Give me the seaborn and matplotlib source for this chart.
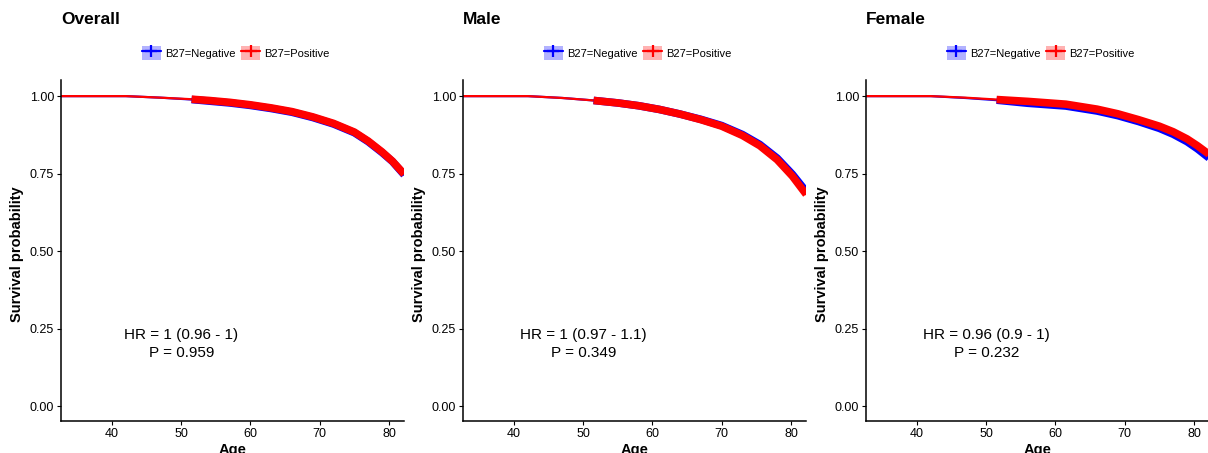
import numpy as np
import pandas as pd
import seaborn as sns
import matplotlib.pyplot as plt
from matplotlib.patches import Patch
from matplotlib.lines import Line2D
from matplotlib.legend_handler import HandlerTuple

sns.set_theme(style="ticks")
plt.rcParams['font.family'] = ['Liberation Sans', 'DejaVu Sans']
plt.rcParams['text.color'] = 'black'
plt.rcParams['axes.labelcolor'] = 'black'

titles = ["Overall", "Male", "Female"]
hr_labels = ["HR = 1 (0.96 - 1)", "HR = 1 (0.97 - 1.1)", "HR = 0.96 (0.9 - 1)"]
p_labels = ["P = 0.959", "P = 0.349", "P = 0.232"]
groups = ["B27=Negative", "B27=Positive"]
colors = {"B27=Negative": "#0000FF", "B27=Positive": "#FF0000"}

# survival (censor marks start ~51.5)
censor_start = 51.5
overall_age = [32.7, 42, 47, 51.5, 54, 57, 60, 63, 66, 69, 72, 75, 77, 79, 80.5, 82.2]
overall_neg = [1.0, 1.0, 0.995, 0.989, 0.984, 0.978, 0.970, 0.960, 0.948, 0.931, 0.910, 0.882, 0.853, 0.818, 0.789, 0.746]
overall_pos = [1.0, 1.0, 0.995, 0.990, 0.986, 0.980, 0.972, 0.962, 0.950, 0.933, 0.912, 0.884, 0.855, 0.820, 0.790, 0.748]

male_age = [32.7, 42, 47, 51.5, 55, 58, 61, 64, 67, 70, 73, 75.5, 78, 80.2, 82.2]
male_neg = [1.0, 1.0, 0.994, 0.986, 0.978, 0.969, 0.957, 0.942, 0.925, 0.905, 0.876, 0.844, 0.800, 0.748, 0.692]
male_pos = [1.0, 1.0, 0.994, 0.986, 0.978, 0.969, 0.957, 0.942, 0.924, 0.903, 0.873, 0.840, 0.795, 0.742, 0.683]

female_age = [32.7, 42, 47, 51.5, 56, 61.5, 66, 69, 72, 75, 77, 79, 80.5, 82.2]
female_neg = [1.0, 1.0, 0.994, 0.987, 0.977, 0.968, 0.952, 0.937, 0.918, 0.896, 0.877, 0.853, 0.830, 0.800]
female_pos = [1.0, 1.0, 0.995, 0.989, 0.983, 0.974, 0.958, 0.943, 0.924, 0.903, 0.885, 0.862, 0.840, 0.812]

panels = [
    (overall_age, overall_neg, overall_pos),
    (male_age, male_neg, male_pos),
    (female_age, female_neg, female_pos),
]

fig = plt.figure(figsize=(12.08, 4.53), dpi=100)
lefts = [61, 463, 866]

for i, (ages, neg, pos) in enumerate(panels):
    ax = fig.add_axes([lefts[i] / 1208, 32 / 453, 343 / 1208, 341 / 453])
    df = pd.DataFrame({
        "age": ages + ages,
        "surv": neg + pos,
        "group": [groups[0]] * len(ages) + [groups[1]] * len(ages),
    })
    # thin curve, then dense censor marks drawn as a thick band
    sns.lineplot(data=df, x="age", y="surv", hue="group", palette=colors,
                 estimator=None, sort=False, linewidth=1.6, legend=False, ax=ax)
    cens = df[df["age"] >= censor_start]
    sns.lineplot(data=cens, x="age", y="surv", hue="group", palette=colors,
                 estimator=None, sort=False, linewidth=5.5, legend=False, ax=ax,
                 solid_capstyle="butt", solid_joinstyle="round")

    ax.set_xlim(32.64, 82.17)
    ax.set_ylim(-0.048, 1.052)
    ax.set_xticks([40, 50, 60, 70, 80])
    ax.set_yticks([0, 0.25, 0.5, 0.75, 1.0])
    ax.set_yticklabels(["0.00", "0.25", "0.50", "0.75", "1.00"])
    sns.despine(ax=ax)
    for s in ["left", "bottom"]:
        ax.spines[s].set_color("black")
        ax.spines[s].set_linewidth(1.1)
    ax.tick_params(length=3, width=0.8, color="black", labelsize=9, pad=2,
                   labelcolor="black")

    ax.set_xlabel("Age", fontsize=10.5, fontweight="bold", labelpad=2)
    ax.set_ylabel("Survival probability", fontsize=10.5, fontweight="bold")
    ax.yaxis.set_label_coords(-0.107, 0.49)

    ax.text(50.0, 0.2, hr_labels[i] + "\n" + p_labels[i], ha="center",
            va="center", multialignment="center", fontsize=11, linespacing=1.3)

    ax.text(0.0, 1.176, titles[i], transform=ax.transAxes, ha="left",
            va="center", fontsize=12.5, fontweight="bold")

    handles = []
    for g in groups:
        handles.append((Patch(facecolor=colors[g], alpha=0.3, edgecolor="none"),
                        Line2D([], [], color=colors[g], lw=1.6, marker="+",
                               markersize=9, markeredgewidth=1.6)))
    ax.legend(handles, groups, handler_map={tuple: HandlerTuple(ndivide=1)},
              loc="center", bbox_to_anchor=(0.51, 1.079), ncol=2, frameon=False,
              fontsize=8, handlelength=1.7, handleheight=1.6, columnspacing=0.5,
              handletextpad=0.4, borderpad=0)

plt.savefig("out.png", dpi=100)
